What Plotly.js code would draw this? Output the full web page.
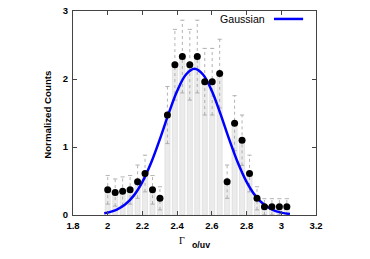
<!DOCTYPE html>
<html>
<head>
<meta charset="utf-8">
<script src="https://cdn.plot.ly/plotly-3.0.1.min.js"></script>
<style>html,body{margin:0;padding:0;background:#fff;}#chart{width:370px;height:259px;}</style>
</head>
<body>
<div id="chart"></div>
<script>
// Histogram bin centres (Γ o/uv)
const binX = [2.000, 2.043, 2.086, 2.129, 2.172, 2.215, 2.258, 2.301, 2.344, 2.387,
              2.430, 2.473, 2.516, 2.559, 2.602, 2.645, 2.688, 2.731, 2.774, 2.817,
              2.860, 2.903, 2.946, 2.989, 3.032];
// Normalized counts
const counts = [0.37, 0.33, 0.35, 0.37, 0.49, 0.61, 0.37, 0.245, 1.47, 2.21,
                2.33, 2.21, 2.33, 1.96, 1.96, 2.08, 0.49, 1.35, 1.10, 0.61,
                0.245, 0.12, 0.12, 0.12, 0.12];
// Error bar half-lengths
const errs = [0.21, 0.20, 0.21, 0.21, 0.245, 0.27, 0.21, 0.17, 0.42, 0.52,
              0.535, 0.52, 0.535, 0.49, 0.49, 0.505, 0.245, 0.405, 0.37, 0.27,
              0.17, 0.12, 0.12, 0.12, 0.12];
// Gaussian fit curve samples
const fitX = [1.98, 2.00, 2.05, 2.10, 2.15, 2.20, 2.25, 2.30, 2.35, 2.40, 2.45, 2.50,
              2.55, 2.60, 2.65, 2.70, 2.75, 2.80, 2.85, 2.90, 2.95, 3.00, 3.05];
const fitY = [0.025, 0.035, 0.076, 0.154, 0.285, 0.487, 0.767, 1.111, 1.483, 1.823, 2.063, 2.15,
              2.063, 1.823, 1.483, 1.111, 0.767, 0.487, 0.285, 0.154, 0.076, 0.035, 0.015];
const xTicks = [1.8, 2.0, 2.2, 2.4, 2.6, 2.8, 3.0, 3.2];
const xTickText = ['1.8', '2', '2.2', '2.4', '2.6', '2.8', '3', '3.2'];
const yTicks = [0, 1, 2, 3];
const legendLabel = 'Gaussian';

const errX = [], errY = [];
binX.forEach((x, i) => {
  errX.push(x, x, null);
  errY.push(counts[i] - errs[i], counts[i] + errs[i], null);
});

const traces = [
  {type: 'bar', x: binX, y: counts, width: 0.029,
   marker: {color: '#ebebeb', line: {color: '#d6d6d6', width: 0.6}},
   hoverinfo: 'skip', showlegend: false},
  {type: 'scatter', mode: 'lines+markers', x: errX, y: errY,
   line: {color: '#a0a0a0', width: 0.8, dash: 'dot'},
   marker: {symbol: 'line-ew', size: 3, line: {color: '#a0a0a0', width: 0.8}},
   connectgaps: false, showlegend: false},
  {type: 'scatter', mode: 'lines', x: fitX, y: fitY, name: legendLabel,
   line: {color: '#0000ff', width: 2.5, shape: 'spline'}, showlegend: false},
  {type: 'scatter', mode: 'markers', x: binX, y: counts,
   marker: {color: '#000', size: 7}, showlegend: false}
];

const tickFont = {family: 'Liberation Sans, Arial, sans-serif', size: 9.5, color: '#000', weight: 'bold'};
const layout = {
  width: 370, height: 259,
  margin: {l: 73, r: 54, t: 11, b: 44, pad: 0},
  paper_bgcolor: '#fff', plot_bgcolor: '#fff',
  bargap: 0,
  xaxis: {range: [1.8, 3.2], tickvals: xTicks, ticktext: xTickText, ticks: 'inside', ticklen: 4,
          tickcolor: '#444', showline: true, linecolor: '#444', linewidth: 1, mirror: 'ticks',
          showgrid: false, zeroline: false, tickfont: tickFont, ticklabelstandoff: 2},
  yaxis: {range: [0, 3], tickvals: yTicks, ticks: 'inside', ticklen: 4,
          tickcolor: '#444', showline: true, linecolor: '#444', linewidth: 1, mirror: 'ticks',
          showgrid: false, zeroline: false, tickfont: tickFont, ticklabelstandoff: 2},
  annotations: [
    {xref: 'paper', yref: 'paper', x: -0.108, y: 0.49, text: 'Normalized Counts', textangle: -90,
     showarrow: false, xanchor: 'center', yanchor: 'middle',
     font: {family: 'Liberation Sans, Arial, sans-serif', size: 9.7, color: '#000', weight: 'bold'}},
    {xref: 'paper', yref: 'paper', x: 0.447, y: -0.127, text: 'Γ', showarrow: false,
     xanchor: 'center', yanchor: 'middle',
     font: {family: 'Liberation Serif, Times New Roman, serif', size: 10, color: '#000'}},
    {xref: 'paper', yref: 'paper', x: 0.525, y: -0.145, text: 'o/uv', showarrow: false,
     xanchor: 'center', yanchor: 'middle',
     font: {family: 'Liberation Sans, Arial, sans-serif', size: 8.8, color: '#000', weight: 'bold'}},
    {xref: 'paper', yref: 'paper', x: 0.798, y: 0.961, text: legendLabel, showarrow: false,
     xanchor: 'right', yanchor: 'middle',
     font: {family: 'Liberation Sans, Arial, sans-serif', size: 10.6, color: '#000'}}
  ],
  shapes: [
    {type: 'line', xref: 'paper', yref: 'paper', x0: 0.827, x1: 0.947, y0: 0.961, y1: 0.961,
     line: {color: '#0000ff', width: 2.5}}
  ]
};

Plotly.newPlot('chart', traces, layout, {displayModeBar: false, staticPlot: true});
</script>
</body>
</html>
